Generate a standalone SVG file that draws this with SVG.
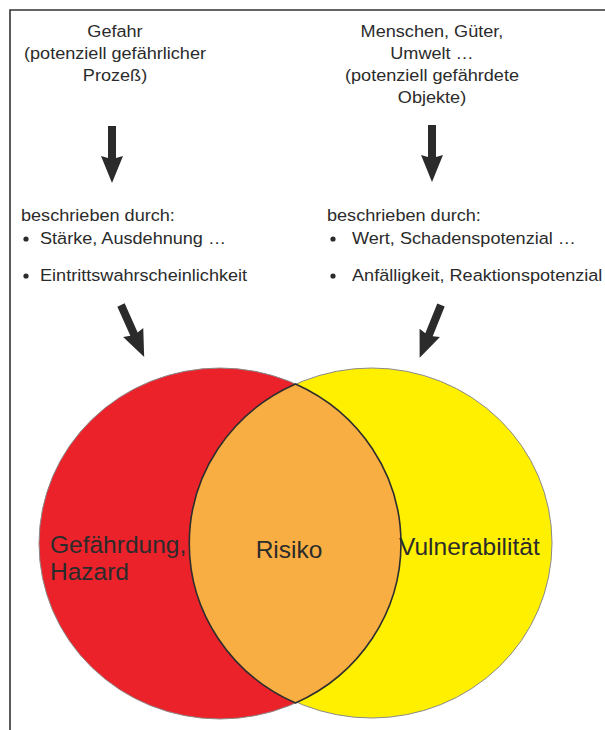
<svg xmlns="http://www.w3.org/2000/svg" width="605" height="730" viewBox="0 0 605 730">
<style>
  .t { font-family: "Liberation Sans", Arial, sans-serif; font-size: 17px; fill: #2b2b2b; }
  .c { text-anchor: middle; }
  .big { font-family: "Liberation Sans", Arial, sans-serif; font-size: 24.5px; fill: #2b2b2b; }
  .arrow { fill: #2b2b2b; }
  .bullet { fill: #2b2b2b; }
</style>
<rect width="605" height="730" fill="#ffffff"/>
<g id="frame" fill="none" stroke="#333" stroke-width="1.6">
  <path d="M10,730 V10 H605"/>
</g>

<g id="venn">
  <ellipse id="hazard-circle" cx="220" cy="543.5" rx="181" ry="175.5" fill="#EC222B" stroke="#8a8a8a" stroke-width="1"/>
  <ellipse id="vuln-circle" cx="371.5" cy="543" rx="180.5" ry="175" fill="#FFF000" stroke="#8a8a8a" stroke-width="1"/>
  <path id="risk-lens" d="M295.5,384 A181,175.5 0 0 1 295.5,703 A180.5,175 0 0 1 295.5,384 Z" fill="#F9AE43" stroke="#2e2e2e" stroke-width="1.6"/>
</g>

<g id="node-gefahr">
  <text class="t c" transform="translate(115 0) scale(1.065 1)" x="0" y="37">Gefahr</text>
  <text class="t c" transform="translate(115 0) scale(1.065 1)" x="0" y="59">(potenziell gefährlicher</text>
  <text class="t c" transform="translate(115 0) scale(1.065 1)" x="0" y="81">Prozeß)</text>
</g>

<g id="node-objekte">
  <text class="t c" transform="translate(432 0) scale(1.065 1)" x="0" y="37">Menschen, Güter,</text>
  <text class="t c" transform="translate(432 0) scale(1.065 1)" x="0" y="59">Umwelt …</text>
  <text class="t c" transform="translate(432 0) scale(1.065 1)" x="0" y="81">(potenziell gefährdete</text>
  <text class="t c" transform="translate(432 0) scale(1.065 1)" x="0" y="103">Objekte)</text>
</g>

<g id="node-desc-left">
  <text class="t" transform="translate(21 0) scale(1.065 1)" x="0" y="221">beschrieben durch:</text>
  <circle class="bullet" cx="26" cy="239" r="2.6"/>
  <text class="t" transform="translate(40 0) scale(1.065 1)" x="0" y="244">Stärke, Ausdehnung …</text>
  <circle class="bullet" cx="26" cy="276" r="2.6"/>
  <text class="t" transform="translate(40 0) scale(1.065 1)" x="0" y="281">Eintrittswahrscheinlichkeit</text>
</g>

<g id="node-desc-right">
  <text class="t" transform="translate(327 0) scale(1.065 1)" x="0" y="221">beschrieben durch:</text>
  <circle class="bullet" cx="333" cy="239" r="2.6"/>
  <text class="t" transform="translate(352 0) scale(1.065 1)" x="0" y="244">Wert, Schadenspotenzial …</text>
  <circle class="bullet" cx="333" cy="276" r="2.6"/>
  <text class="t" transform="translate(352 0) scale(1.065 1)" x="0" y="281">Anfälligkeit, Reaktionspotenzial</text>
</g>

<g id="node-hazard-label">
  <text class="big" x="50" y="553">Gefährdung,</text>
  <text class="big" x="50" y="580">Hazard</text>
</g>
<g id="node-risk-label">
  <text class="big c" x="289" y="558">Risiko</text>
</g>
<g id="node-vuln-label">
  <text class="big" x="399" y="555">Vulnerabilität</text>
</g>

<g id="connectors">
  <defs>
    <path id="arr" d="M-4,0 H4 V32 L11,30 L0,57 L-11,30 L-4,32 Z"/>
  </defs>
  <use href="#arr" class="arrow" transform="translate(112,126)"/>
  <use href="#arr" class="arrow" transform="translate(432,125)"/>
  <use href="#arr" class="arrow" transform="translate(121,305) rotate(-24)"/>
  <use href="#arr" class="arrow" transform="translate(441,305) rotate(22)"/>
</g>
</svg>
